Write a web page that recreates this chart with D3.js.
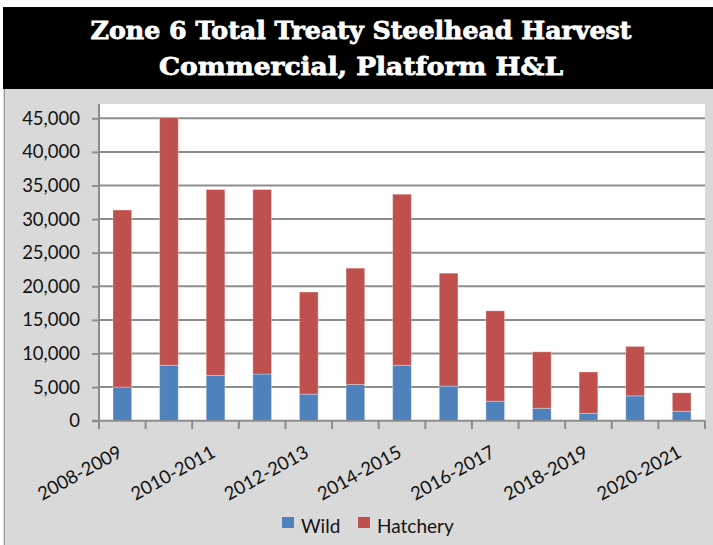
<!DOCTYPE html>
<html>
<head>
<meta charset="utf-8">
<script src="https://cdn.jsdelivr.net/npm/d3@7"></script>
<style>
  html, body { margin: 0; padding: 0; background: #ffffff; }
  svg { display: block; }
</style>
</head>
<body>
<script>
// Harvest seasons and fish counts per season
const seasons = ["2008-2009", "2009-2010", "2010-2011", "2011-2012", "2012-2013", "2013-2014",
  "2014-2015", "2015-2016", "2016-2017", "2017-2018", "2018-2019", "2019-2020", "2020-2021"];
const wild = [5000, 8250, 6750, 6950, 3950, 5400, 8250, 5150, 2900, 1850, 1100, 3700, 1400];
const hatchery = [26350, 36850, 27650, 27450, 15200, 17300, 25450, 16800, 13450, 8400, 6150, 7350, 2750];
const seriesNames = ["Wild", "Hatchery"];
const seriesColors = ["#4f81bd", "#c0504d"];
const yTicks = [0, 5000, 10000, 15000, 20000, 25000, 30000, 35000, 40000, 45000];
const labelledSeasons = ["2008-2009", "2010-2011", "2012-2013", "2014-2015", "2016-2017", "2018-2019", "2020-2021"];
const titleLines = ["Zone 6 Total Treaty Steelhead Harvest", "Commercial, Platform H&L"];

const W = 713, H = 545;
const plot = { left: 99, right: 705, top: 104, zero: 420.7, max: 118.3 };
const labelFont = "Lato, 'Open Sans', sans-serif";

const svg = d3.select("body").append("svg").attr("width", W).attr("height", H);

// Grey chart frame and black title band
svg.append("rect").attr("x", 3).attr("y", 88).attr("width", W - 3).attr("height", H - 88).attr("fill", "#d9d9d9");
svg.append("line").attr("x1", 4.5).attr("x2", 4.5).attr("y1", 88).attr("y2", H)
  .attr("stroke", "#9a9a9a").attr("stroke-width", 1);
svg.append("rect").attr("x", 3).attr("y", 7).attr("width", W - 3).attr("height", 82).attr("fill", "#000000");

const titleWidths = [541, 404];
svg.selectAll("text.title").data(titleLines).join("text")
  .attr("class", "title")
  .attr("x", 361)
  .attr("y", (d, i) => 39 + i * 36)
  .attr("text-anchor", "middle")
  .attr("fill", "#ffffff")
  .attr("stroke", "#ffffff")
  .attr("stroke-width", 0.8)
  .attr("font-family", "'DejaVu Serif', serif")
  .attr("font-weight", "bold")
  .attr("font-size", 24)
  .attr("textLength", (d, i) => titleWidths[i])
  .attr("lengthAdjust", "spacingAndGlyphs")
  .text(d => d);

// Plot area
svg.append("rect").attr("x", plot.left).attr("y", plot.top)
  .attr("width", plot.right - plot.left).attr("height", plot.zero - plot.top).attr("fill", "#ffffff");

const x = d3.scaleBand().domain(seasons).range([plot.left, plot.right]).paddingInner(0.6).paddingOuter(0.3);
const y = d3.scaleLinear().domain([0, 45000]).range([plot.zero, plot.max]);

// Horizontal gridlines
svg.append("g").selectAll("line").data(yTicks.filter(d => d > 0)).join("line")
  .attr("x1", plot.left).attr("x2", plot.right)
  .attr("y1", d => y(d)).attr("y2", d => y(d))
  .attr("stroke", "#8e8e8e").attr("stroke-width", 2);

// Stacked bars
const rows = seasons.map((s, i) => ({ season: s, Wild: wild[i], Hatchery: hatchery[i] }));
const stacked = d3.stack().keys(seriesNames)(rows);
svg.append("g").selectAll("g").data(stacked).join("g")
  .attr("fill", (d, i) => seriesColors[i])
  .selectAll("rect").data(d => d).join("rect")
  .attr("x", d => x(d.data.season))
  .attr("width", x.bandwidth())
  .attr("y", d => y(d[1]))
  .attr("height", d => y(d[0]) - y(d[1]))
  .attr("stroke", "rgba(255,255,255,0.3)")
  .attr("stroke-width", 1);

// Y axis
const yAxis = svg.append("g").attr("transform", `translate(${plot.left},0)`)
  .call(d3.axisLeft(y).tickValues(yTicks).tickFormat(d3.format(",")).tickSize(7).tickPadding(12));
yAxis.select(".domain").remove();
yAxis.selectAll(".tick line").attr("stroke", "#8c8c8c").attr("stroke-width", 2);
yAxis.selectAll(".tick text").attr("font-family", labelFont).attr("font-size", 18.5).attr("fill", "#111");
svg.append("line").attr("x1", plot.left).attr("x2", plot.left).attr("y1", plot.top).attr("y2", 429)
  .attr("stroke", "#8c8c8c").attr("stroke-width", 2);

// X axis baseline and boundary ticks
svg.append("line").attr("x1", plot.left - 7).attr("x2", plot.right).attr("y1", plot.zero).attr("y2", plot.zero)
  .attr("stroke", "#8c8c8c").attr("stroke-width", 2);
const half = (x.step() - x.bandwidth()) / 2;
const bounds = seasons.map(s => x(s) - half).concat([x(seasons[seasons.length - 1]) + x.bandwidth() + half]);
svg.append("g").selectAll("line").data(bounds).join("line")
  .attr("x1", d => d).attr("x2", d => d)
  .attr("y1", plot.zero).attr("y2", 429)
  .attr("stroke", "#8c8c8c").attr("stroke-width", 2);

// Rotated season labels on every other band
svg.append("g").selectAll("text").data(labelledSeasons).join("text")
  .attr("transform", d => `translate(${x(d) + x.bandwidth() / 2 + 1},456) rotate(-29)`)
  .attr("text-anchor", "end")
  .attr("font-family", labelFont)
  .attr("font-size", 18.5)
  .attr("fill", "#111")
  .text(d => d);

// Legend
const legendX = [282, 358];
const legend = svg.append("g").selectAll("g").data(seriesNames).join("g")
  .attr("transform", (d, i) => `translate(${legendX[i]},517)`);
legend.append("rect").attr("width", 12).attr("height", 11).attr("fill", (d, i) => seriesColors[i]);
legend.append("text").attr("x", 19).attr("y", 16)
  .attr("font-family", labelFont).attr("font-size", 19).attr("fill", "#111")
  .text(d => d);
</script>
</body>
</html>
